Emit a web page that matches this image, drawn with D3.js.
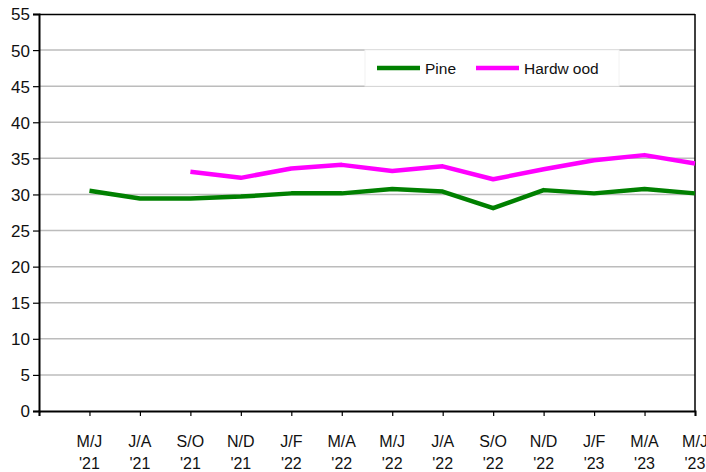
<!DOCTYPE html>
<html>
<head>
<meta charset="utf-8">
<script src="https://cdn.jsdelivr.net/npm/d3@7"></script>
<style>
  body { margin: 0; background: #fff; }
  text { font-family: "Liberation Sans", Arial, sans-serif; fill: #111; }
</style>
</head>
<body>
<div id="chart"></div>
<script>
// chart data
var periods = ["M/J", "J/A", "S/O", "N/D", "J/F", "M/A", "M/J", "J/A", "S/O", "N/D", "J/F", "M/A", "M/J"];
var years   = ["'21", "'21", "'21", "'21", "'22", "'22", "'22", "'22", "'22", "'22", "'23", "'23", "'23"];
var pine     = [30.5, 29.45, 29.45, 29.7, 30.15, 30.15, 30.75, 30.4, 28.1, 30.6, 30.15, 30.75, 30.15];
var hardwood = [null, null, 33.15, 32.3, 33.6, 34.1, 33.25, 33.9, 32.1, 33.5, 34.75, 35.45, 34.3];
var yTicks = d3.range(0, 56, 5);

var W = 706, H = 472;
var margin = {top: 14, right: 11, bottom: 61, left: 39};
var width = W - margin.left - margin.right,
    height = H - margin.top - margin.bottom;

var svg = d3.select("#chart").append("svg")
    .attr("width", W).attr("height", H)
  .append("g")
    .attr("transform", "translate(" + margin.left + "," + margin.top + ")");

// x: category i sits at tick i+1, the axis starts one step before the first point
var x = d3.scaleLinear().domain([0, periods.length]).range([0, width]);
var y = d3.scaleLinear().domain([0, 55]).range([height, 0]);

// gridlines
svg.selectAll(".grid")
  .data(yTicks.filter(function(d){ return d > 0 && d < 55; }))
  .enter().append("line")
    .attr("x1", 0).attr("x2", width)
    .attr("y1", function(d){ return y(d); })
    .attr("y2", function(d){ return y(d); })
    .attr("stroke", "#bcbcbc").attr("stroke-width", 1.5);

// frame top/right
svg.append("line").attr("x1", 0).attr("x2", width).attr("y1", 0.5).attr("y2", 0.5)
   .attr("stroke", "#000").attr("stroke-width", 1.5);
svg.append("line").attr("x1", width).attr("x2", width).attr("y1", 0).attr("y2", height)
   .attr("stroke", "#000").attr("stroke-width", 1.5);

// y axis
var yAxis = svg.append("g")
  .call(d3.axisLeft(y).tickValues(yTicks).tickSize(6).tickPadding(3));
yAxis.select(".domain").attr("stroke-width", 2);
yAxis.selectAll(".tick line").attr("stroke-width", 1.2);
yAxis.selectAll("text").style("font-size", "17px").attr("fill", "#111").attr("dy", "0.35em");

// x axis
var xAxis = svg.append("g")
  .attr("transform", "translate(0," + height + ")")
  .call(d3.axisBottom(x).tickValues(d3.range(0, periods.length + 1)).tickSize(5).tickFormat(""));
xAxis.select(".domain").attr("stroke-width", 2);
xAxis.selectAll(".tick line").attr("stroke-width", 1.2);

var xl = svg.append("g").selectAll(".xlab")
  .data(periods)
  .enter().append("text")
    .attr("x", function(d, i){ return x(i + 1); })
    .attr("y", height + 36)
    .attr("text-anchor", "middle")
    .style("font-size", "16px");
xl.append("tspan").attr("x", function(d, i){ return x(i + 1); }).text(function(d){ return d; });
xl.append("tspan").attr("x", function(d, i){ return x(i + 1); }).attr("dy", 22)
  .text(function(d, i){ return years[i]; });

// lines
var line = d3.line()
  .defined(function(d){ return d != null; })
  .x(function(d, i){ return x(i + 1); })
  .y(function(d){ return y(d); });

svg.append("path").datum(pine)
  .attr("d", line).attr("fill", "none")
  .attr("stroke", "#008000").attr("stroke-width", 4.5).attr("stroke-linejoin", "round");
svg.append("path").datum(hardwood)
  .attr("d", line).attr("fill", "none")
  .attr("stroke", "#ff00ff").attr("stroke-width", 4.5).attr("stroke-linejoin", "round");

// legend
var leg = svg.append("g").attr("transform", "translate(" + (365 - margin.left) + "," + (50 - margin.top) + ")");
leg.append("rect").attr("width", 254).attr("height", 36).attr("fill", "#fff")
   .attr("stroke", "#f2f2f2").attr("stroke-width", 1);
var legItems = [{name: "Pine", color: "#008000", x: 12}, {name: "Hardwood", color: "#ff00ff", x: 111}];
legItems.forEach(function(it){
  leg.append("line").attr("x1", it.x).attr("x2", it.x + 43).attr("y1", 18).attr("y2", 18)
     .attr("stroke", it.color).attr("stroke-width", 4.5);
  var t = leg.append("text").attr("x", it.x + 48).attr("y", 23.5).style("font-size", "15.5px");
  if (it.name == "Hardwood") {
    t.append("tspan").text("Hardw");
    t.append("tspan").attr("dx", 4).text("ood");
  } else {
    t.text(it.name);
  }
});
</script>
</body>
</html>
